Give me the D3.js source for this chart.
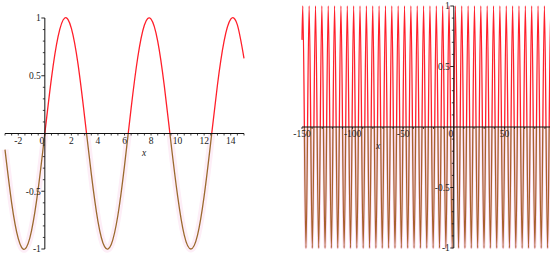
<!DOCTYPE html>
<html>
<head>
<meta charset="utf-8">
<script src="https://cdn.jsdelivr.net/npm/d3@7"></script>
<style>
  body { margin: 0; background: #fff; }
  svg { display: block; }
  text { font-family: "Liberation Serif", "DejaVu Serif", serif; font-size: 9.5px; fill: #222; }
</style>
</head>
<body>
<div id="chart"></div>
<script>
let width = 550, height = 256;

// left plot: sin(x) on [-3, 15], read at every 0.5
const leftX = [-3, -2.5, -2, -1.5, -1, -0.5, 0, 0.5, 1, 1.5, 2, 2.5, 3, 3.5, 4, 4.5, 5, 5.5, 6, 6.5,
  7, 7.5, 8, 8.5, 9, 9.5, 10, 10.5, 11, 11.5, 12, 12.5, 13, 13.5, 14, 14.5, 15];
const leftY = [-0.14, -0.6, -0.91, -1, -0.84, -0.48, 0, 0.48, 0.84, 1, 0.91, 0.6, 0.14, -0.35, -0.76, -0.98, -0.96, -0.71, -0.28, 0.22,
  0.66, 0.94, 0.99, 0.8, 0.41, -0.08, -0.54, -0.88, -1, -0.88, -0.54, -0.07, 0.42, 0.8, 0.99, 0.94, 0.65];
const leftXTicks = [-2, 2, 4, 6, 8, 10, 12, 14];

// right plot: sin(x) on [-150, ~97], start/end points and every peak / trough
const rightX = [-150, -149.23, -146.08, -142.94, -139.8, -136.66, -133.52, -130.38, -127.23, -124.09, -120.95,
  -117.81, -114.67, -111.53, -108.38, -105.24, -102.1, -98.96, -95.82, -92.68, -89.54,
  -86.39, -83.25, -80.11, -76.97, -73.83, -70.69, -67.54, -64.4, -61.26, -58.12,
  -54.98, -51.84, -48.69, -45.55, -42.41, -39.27, -36.13, -32.99, -29.85, -26.7,
  -23.56, -20.42, -17.28, -14.14, -11, -7.85, -4.71, -1.57, 1.57, 4.71,
  7.85, 11, 14.14, 17.28, 20.42, 23.56, 26.7, 29.85, 32.99, 36.13,
  39.27, 42.41, 45.55, 48.69, 51.84, 54.98, 58.12, 61.26, 64.4, 67.54,
  70.69, 73.83, 76.97, 80.11, 83.25, 86.39, 89.54, 92.68, 95.82, 97];
const rightY = [0.72, 1, -1, 1, -1, 1, -1, 1, -1, 1, -1,
  1, -1, 1, -1, 1, -1, 1, -1, 1, -1,
  1, -1, 1, -1, 1, -1, 1, -1, 1, -1,
  1, -1, 1, -1, 1, -1, 1, -1, 1, -1,
  1, -1, 1, -1, 1, -1, 1, -1, 1, -1,
  1, -1, 1, -1, 1, -1, 1, -1, 1, -1,
  1, -1, 1, -1, 1, -1, 1, -1, 1, -1,
  1, -1, 1, -1, 1, -1, 1, -1, 1, 0.38];
const rightXTicks = [-150, -100, -50, 50];

const yTicks = [1, 0.5, -0.5, -1];
const yMinor = [-0.9, -0.8, -0.7, -0.6, -0.4, -0.3, -0.2, -0.1, 0.1, 0.2, 0.3, 0.4, 0.6, 0.7, 0.8, 0.9];

const svg = d3.select("#chart").append("svg")
  .attr("width", width).attr("height", height);

function panel(id, xs, ys, x, y, xTicks, xMinorStep, curve, haloW, halo, low, xLabelPos, xLabelDy) {
  const g = svg.append("g");
  const y0 = y(0), x0 = x(0);
  const pts = xs.map((v, i) => [v, ys[i]]);
  const line = d3.line().x(d => x(d[0])).y(d => y(d[1])).curve(curve);

  const defs = svg.append("defs");
  defs.append("clipPath").attr("id", id + "-up")
    .append("rect").attr("x", 0).attr("y", 0).attr("width", width).attr("height", y0);
  defs.append("clipPath").attr("id", id + "-dn")
    .append("rect").attr("x", 0).attr("y", y0).attr("width", width).attr("height", height - y0);

  // lower half: faint pink halo + brown line
  g.append("path").datum(pts).attr("d", line)
    .attr("clip-path", `url(#${id}-dn)`)
    .attr("fill", "none").attr("stroke", halo).attr("stroke-width", haloW);
  g.append("path").datum(pts).attr("d", line)
    .attr("clip-path", `url(#${id}-dn)`)
    .attr("fill", "none").attr("stroke", low).attr("stroke-width", 1.3);
  // upper half: red line
  g.append("path").datum(pts).attr("d", line)
    .attr("clip-path", `url(#${id}-up)`)
    .attr("fill", "none").attr("stroke", "#ff1f2a").attr("stroke-width", 1.3);

  // x axis
  const [xa, xb] = x.domain();
  g.append("line").attr("x1", x(xa)).attr("x2", x(xb)).attr("y1", y0).attr("y2", y0)
    .attr("stroke", "#111").attr("stroke-width", 1);
  const minorX = d3.range(Math.ceil(xa / xMinorStep) * xMinorStep, xb + 1e-9, xMinorStep);
  g.selectAll(null).data(minorX).join("line")
    .attr("x1", d => x(d)).attr("x2", d => x(d))
    .attr("y1", y0).attr("y2", y0 + 2)
    .attr("stroke", "#111").attr("stroke-width", 0.8);
  g.selectAll(null).data(xTicks).join("text")
    .attr("x", d => x(d)).attr("y", y0 + 3.5)
    .attr("dy", "0.71em").attr("text-anchor", "middle")
    .text(d => d);
  g.append("text").attr("x", x0 - 0.5).attr("y", y0 + 3.5).attr("dy", "0.71em")
    .attr("text-anchor", "end").text("0");
  g.append("text").attr("x", xLabelPos).attr("y", y0 + xLabelDy)
    .attr("text-anchor", "middle").style("font-style", "italic").text("x");

  // y axis
  g.append("line").attr("x1", x0).attr("x2", x0).attr("y1", y(-1)).attr("y2", y(1))
    .attr("stroke", "#111").attr("stroke-width", 1);
  g.selectAll(null).data(yMinor).join("line")
    .attr("x1", x0 - 2).attr("x2", x0)
    .attr("y1", d => y(d)).attr("y2", d => y(d))
    .attr("stroke", "#111").attr("stroke-width", 0.8);
  g.selectAll(null).data(yTicks).join("line")
    .attr("x1", x0 - 3.5).attr("x2", x0)
    .attr("y1", d => y(d)).attr("y2", d => y(d))
    .attr("stroke", "#111").attr("stroke-width", 0.9);
  g.selectAll(null).data(yTicks).join("text")
    .attr("x", x0 - 4).attr("y", d => y(d))
    .attr("dy", "0.35em").attr("text-anchor", "end")
    .text(d => d);
}

const xL = d3.scaleLinear().domain([-3, 15]).range([5, 244]);
const yL = d3.scaleLinear().domain([-1, 1]).range([249, 18]);
panel("l", leftX, leftY, xL, yL, leftXTicks, 0.5, d3.curveNatural, 7, "#fdeef7", "#9b6a2e", 144, 22);

const xR = d3.scaleLinear().domain([-150, 100]).range([302, 555]);
const yR = d3.scaleLinear().domain([-1, 1]).range([248, 6]);
panel("r", rightX, rightY, xR, yR, rightXTicks, 10, d3.curveMonotoneX, 2.6, "#fbd9ee", "#a8602c", 378, 22);
</script>
</body>
</html>
